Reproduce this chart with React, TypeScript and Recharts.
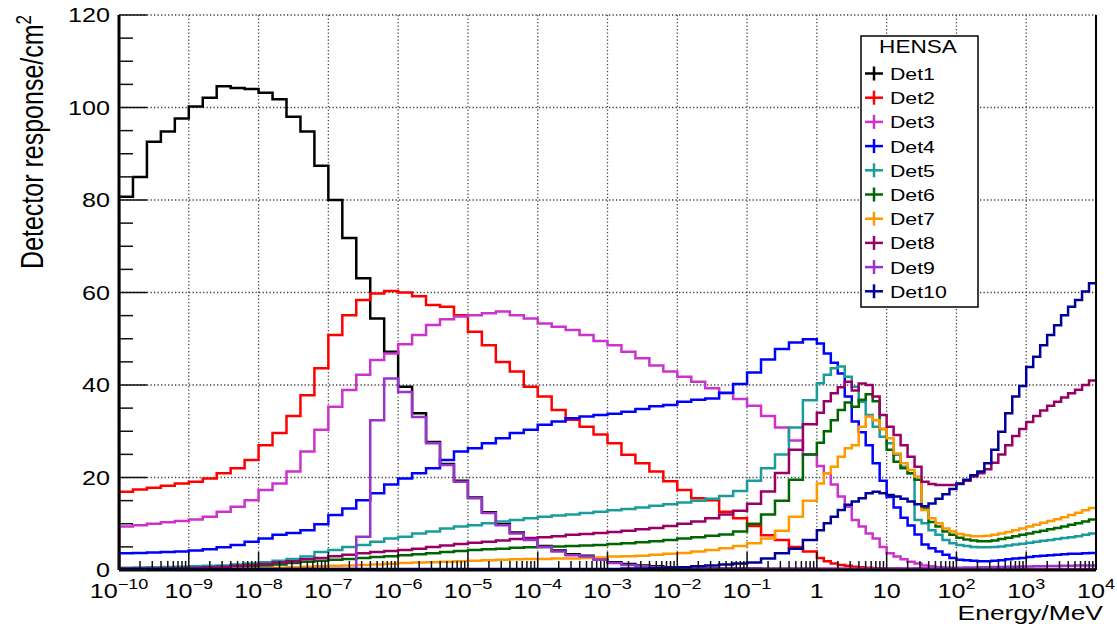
import { LineChart, Line, XAxis, YAxis, CartesianGrid } from "recharts"

const W = 1117
const H = 632
const FONT = "'Liberation Sans', Arial, Helvetica, sans-serif"
// the source picture is stretched horizontally, so text is widened a bit
const STRETCH = 1.29
// plot frame in pixels
const PLOT = { left: 119, right: 1096, top: 15, bottom: 570 }

const NAMES = ["Det1", "Det2", "Det3", "Det4", "Det5", "Det6", "Det7", "Det8", "Det9", "Det10"]
const COLORS = ["#000000", "#ff0000", "#cc33cc", "#0000ff", "#1a9c9c", "#006600", "#ff9900", "#990066", "#9933cc", "#000099"]

// axis ticks
const DECADES = [-10, -9, -8, -7, -6, -5, -4, -3, -2, -1, 0, 1, 2, 3, 4]
const MINOR = [2, 3, 4, 5, 6, 7, 8, 9]
const Y_MAJOR = [0, 20, 40, 60, 80, 100, 120]
const Y_TICKS = [0, 5, 10, 15, 20, 25, 30, 35, 40, 45, 50, 55, 60, 65, 70, 75, 80, 85, 90, 95, 100, 105, 110, 115, 120]

// binning: 5 bins per decade from 1e-10 to 1 MeV, 10 bins per decade from 1 to 1e4 MeV
const LOW_BINS = 50
const HIGH_BINS = 40

// detector responses per bin (50 low bins, then 40 high bins)
const DET1 = [
  80.7, 85.0, 92.6, 94.8, 97.6, 100.2, 102.1, 104.6, 104.2, 104.0,
  103.2, 101.8, 98.0, 94.8, 87.4, 80.0, 71.8, 63.1, 54.4, 47.2,
  39.6, 33.9, 27.7, 22.9, 19.3, 15.7, 12.5, 9.9, 8.1, 6.7,
  5.2, 4.2, 3.4, 3.1, 2.4, 1.7, 1.3, 1.0, 0.8, 0.6,
  0.5, 0.4, 0.4, 0.3, 0.3, 0.3, 0.2, 0.2, 0.2, 0.2,
  0.1, 0.1, 0.1, 0.1, 0.1, 0.1, 0.1, 0.1, 0.1, 0.1,
  0.1, 0.1, 0.1, 0.1, 0.1, 0.1, 0.1, 0.1, 0.1, 0.1,
  0.1, 0.1, 0.1, 0.1, 0.1, 0.1, 0.1, 0.1, 0.1, 0.1,
  0.1, 0.1, 0.1, 0.1, 0.1, 0.1, 0.1, 0.1, 0.1, 0.1,
]
const DET2 = [
  16.9, 17.4, 17.8, 18.2, 18.7, 19.1, 19.8, 20.9, 22.0, 23.8,
  27.0, 29.6, 33.3, 37.8, 43.6, 50.8, 55.1, 58.4, 59.8, 60.3,
  60.0, 59.2, 57.3, 56.9, 55.1, 51.5, 48.6, 45.0, 42.9, 39.6,
  37.5, 34.6, 32.5, 31.0, 29.3, 27.4, 24.9, 23.1, 21.3, 19.2,
  17.3, 15.5, 15.1, 12.6, 11.2, 9.5, 7.5, 6.5, 5.0, 4.0,
  2.6, 1.9, 1.4, 1.1, 0.9, 0.7, 0.6, 0.5, 0.4, 0.35,
  0.3, 0.3, 0.25, 0.2, 0.2, 0.2, 0.15, 0.15, 0.1, 0.1,
  0.1, 0.1, 0.1, 0.1, 0.1, 0.1, 0.1, 0.1, 0.1, 0.1,
  0.1, 0.1, 0.1, 0.1, 0.1, 0.1, 0.1, 0.1, 0.1, 0.1,
]
const DET3 = [
  9.4, 9.7, 10.0, 10.3, 10.6, 10.9, 11.5, 12.6, 13.7, 15.1,
  17.3, 18.7, 21.3, 25.6, 30.3, 35.3, 38.9, 42.2, 45.4, 46.8,
  48.8, 50.8, 53.0, 54.2, 54.8, 55.1, 55.5, 55.9, 55.1, 54.4,
  53.3, 52.6, 51.9, 50.8, 49.5, 48.6, 47.2, 45.8, 44.2, 42.9,
  41.8, 40.7, 39.3, 38.2, 37.0, 35.5, 33.3, 30.8, 28.0, 25.0,
  22.5, 20.9, 18.5, 15.9, 13.7, 10.8, 9.4, 7.9, 6.8, 5.0,
  3.6, 2.9, 2.3, 1.8, 1.4, 1.0, 0.8, 0.6, 0.5, 0.4,
  0.3, 0.3, 0.3, 0.25, 0.25, 0.2, 0.2, 0.2, 0.2, 0.2,
  0.2, 0.2, 0.2, 0.2, 0.2, 0.2, 0.2, 0.2, 0.2, 0.2,
]
const DET4 = [
  3.6, 3.7, 3.8, 3.9, 4.0, 4.2, 4.5, 4.9, 5.4, 6.1,
  6.8, 7.6, 8.0, 8.6, 9.9, 11.9, 13.3, 15.1, 16.6, 18.5,
  19.8, 20.9, 22.0, 23.8, 25.6, 26.3, 27.4, 28.5, 29.6, 30.3,
  31.4, 32.1, 32.8, 33.2, 33.5, 33.8, 34.2, 34.8, 35.4, 35.7,
  36.4, 36.8, 37.1, 38.3, 40.2, 42.7, 45.5, 47.8, 49.2, 49.9,
  49.0, 46.8, 44.8, 42.5, 37.5, 32.1, 29.8, 27.0, 23.1, 19.3,
  15.8, 13.5, 11.3, 9.6, 7.7, 5.5, 4.7, 4.0, 3.3, 2.6,
  2.2, 2.1, 2.0, 1.9, 1.9, 2.0, 2.1, 2.3, 2.5, 2.6,
  2.8, 3.0, 3.1, 3.2, 3.3, 3.4, 3.5, 3.5, 3.6, 3.7,
]
const DET5 = [
  0.5, 0.55, 0.6, 0.65, 0.7, 0.8, 0.9, 1.0, 1.2, 1.4,
  1.7, 2.0, 2.4, 2.9, 3.9, 4.3, 5.0, 5.4, 6.1, 6.8,
  7.2, 7.9, 8.3, 9.0, 9.4, 9.7, 10.1, 10.5, 10.8, 11.2,
  11.5, 11.8, 12.0, 12.3, 12.6, 12.9, 13.2, 13.5, 13.9, 14.2,
  14.6, 15.0, 15.4, 16.0, 17.1, 19.3, 22.0, 25.0, 30.8, 36.7,
  40.4, 42.2, 43.6, 44.0, 41.8, 39.6, 36.4, 33.5, 31.0, 28.8,
  27.4, 24.9, 22.3, 20.9, 10.8, 10.1, 8.6, 7.6, 6.5, 5.8,
  5.4, 5.2, 5.0, 4.9, 4.9, 5.0, 5.1, 5.3, 5.5, 5.7,
  5.9, 6.1, 6.3, 6.5, 6.7, 6.9, 7.1, 7.3, 7.6, 7.9,
]
const DET6 = [
  0.2, 0.2, 0.25, 0.3, 0.35, 0.4, 0.5, 0.6, 0.7, 0.8,
  1.0, 1.2, 1.5, 1.8, 2.0, 2.2, 2.4, 2.6, 2.8, 3.0,
  3.2, 3.4, 3.6, 3.9, 4.1, 4.3, 4.5, 4.6, 4.8, 4.9,
  5.0, 5.1, 5.2, 5.3, 5.4, 5.6, 5.8, 6.0, 6.2, 6.5,
  6.8, 7.1, 7.4, 7.7, 8.3, 10.0, 12.0, 15.0, 19.5, 25.0,
  27.5, 30.0, 32.4, 34.6, 36.2, 35.3, 36.8, 38.0, 36.5, 30.5,
  26.0, 23.4, 22.0, 20.9, 19.5, 13.3, 10.4, 9.4, 8.3, 7.6,
  7.0, 6.6, 6.4, 6.2, 6.2, 6.4, 6.7, 7.0, 7.3, 7.6,
  7.9, 8.2, 8.5, 8.8, 9.1, 9.4, 9.8, 10.1, 10.5, 10.9,
]
const DET7 = [
  0.1, 0.1, 0.1, 0.1, 0.15, 0.2, 0.2, 0.25, 0.3, 0.35,
  0.4, 0.5, 0.6, 0.7, 0.8, 0.9, 1.0, 1.1, 1.2, 1.35,
  1.5, 1.6, 1.7, 1.8, 1.9, 2.0, 2.1, 2.2, 2.3, 2.4,
  2.4, 2.5, 2.5, 2.6, 2.7, 2.9, 3.0, 3.1, 3.3, 3.5,
  3.7, 4.0, 4.3, 4.7, 5.2, 5.8, 6.8, 8.5, 11.5, 15.0,
  18.7, 20.9, 22.3, 24.5, 26.3, 27.0, 31.0, 33.2, 32.4, 30.5,
  28.5, 25.2, 23.1, 21.6, 20.2, 13.0, 11.2, 10.1, 9.0, 8.3,
  7.8, 7.5, 7.3, 7.3, 7.4, 7.6, 7.9, 8.2, 8.6, 9.0,
  9.4, 9.8, 10.2, 10.6, 11.0, 11.4, 11.9, 12.4, 12.9, 13.4,
]
const DET8 = [
  0.3, 0.3, 0.35, 0.4, 0.45, 0.5, 0.6, 0.7, 0.9, 1.1,
  1.3, 1.6, 1.9, 2.3, 2.6, 3.0, 3.3, 3.6, 3.9, 4.1,
  4.3, 4.6, 5.0, 5.3, 5.6, 5.9, 6.1, 6.4, 6.7, 6.9,
  7.1, 7.3, 7.6, 7.8, 8.0, 8.2, 8.5, 8.8, 9.1, 9.5,
  10.0, 10.5, 11.2, 12.0, 12.8, 14.3, 17.0, 21.0, 26.0, 31.5,
  34.0, 36.5, 38.2, 39.5, 40.7, 38.8, 40.3, 40.0, 37.5, 33.5,
  31.0, 29.2, 27.0, 24.5, 22.3, 19.1, 18.6, 18.4, 18.4, 18.4,
  18.6, 19.3, 20.2, 20.9, 21.8, 23.2, 25.0, 27.0, 29.0, 30.5,
  32.0, 33.3, 34.5, 35.5, 36.4, 37.3, 38.2, 39.0, 40.0, 41.0,
]
const DET9 = [
  0.2, 0.2, 0.2, 0.2, 0.2, 0.2, 0.2, 0.2, 0.2, 0.2,
  0.2, 0.2, 0.2, 0.2, 0.2, 0.2, 0.2, 7.2, 32.4, 41.4,
  38.5, 33.1, 27.4, 22.7, 19.1, 15.5, 12.3, 9.7, 7.9, 6.5,
  5.0, 4.0, 3.2, 2.9, 2.2, 1.5, 1.1, 0.8, 0.6, 0.5,
  0.4, 0.4, 0.3, 0.3, 0.3, 0.3, 0.3, 0.3, 0.3, 0.3,
  0.3, 0.3, 0.3, 0.3, 0.3, 0.3, 0.3, 0.3, 0.3, 0.3,
  0.3, 0.3, 0.35, 0.35, 0.4, 0.4, 0.4, 0.45, 0.45, 0.5,
  0.5, 0.55, 0.55, 0.6, 0.6, 0.65, 0.65, 0.7, 0.7, 0.75,
  0.75, 0.8, 0.8, 0.85, 0.85, 0.9, 0.9, 0.95, 1.0, 1.0,
]
const DET10 = [
  0.2, 0.2, 0.2, 0.2, 0.2, 0.2, 0.2, 0.2, 0.2, 0.2,
  0.2, 0.2, 0.2, 0.2, 0.2, 0.2, 0.2, 0.2, 0.2, 0.2,
  0.2, 0.2, 0.2, 0.2, 0.2, 0.2, 0.2, 0.2, 0.2, 0.2,
  0.2, 0.2, 0.2, 0.2, 0.2, 0.2, 0.3, 0.3, 0.4, 0.5,
  0.6, 0.8, 1.0, 1.2, 1.4, 1.6, 2.5, 3.6, 4.6, 6.5,
  8.6, 10.1, 11.5, 13.0, 14.1, 14.8, 15.5, 16.6, 16.9, 16.6,
  16.2, 15.9, 15.4, 14.8, 14.2, 13.8, 14.4, 15.4, 16.4, 17.5,
  18.7, 19.5, 20.5, 21.3, 23.1, 26.0, 29.9, 33.9, 37.5, 39.8,
  43.9, 46.1, 48.6, 50.8, 52.9, 55.1, 56.9, 58.4, 60.2, 62.0,
]

const SERIES = [DET1, DET2, DET3, DET4, DET5, DET6, DET7, DET8, DET9, DET10]

// bin edges in MeV
const EDGES: number[] = []
for (let i = 0; i <= LOW_BINS; i++) EDGES.push(Math.pow(10, -10 + i / 5))
for (let j = 1; j <= HIGH_BINS; j++) EDGES.push(Math.pow(10, j / 10))

// histogram rows for stepAfter lines: start from 0 at the left edge, close at the right edge
const rows: Record<string, number>[] = []
const first: Record<string, number> = { x: EDGES[0] }
NAMES.forEach((n) => (first[n] = 0))
rows.push(first)
for (let i = 0; i < LOW_BINS + HIGH_BINS; i++) {
  const r: Record<string, number> = { x: EDGES[i] }
  NAMES.forEach((n, k) => (r[n] = SERIES[k][i]))
  rows.push(r)
}
const last: Record<string, number> = { x: EDGES[LOW_BINS + HIGH_BINS] }
NAMES.forEach((n, k) => (last[n] = SERIES[k][LOW_BINS + HIGH_BINS - 1]))
rows.push(last)

const X_TICKS = DECADES.flatMap((e) =>
  e === 4 ? [Math.pow(10, e)] : [Math.pow(10, e), ...MINOR.map((m) => m * Math.pow(10, e))]
)

// dotted grid at the major ticks (pixel positions of the frame)
const GRID_X = DECADES.map((e) => PLOT.left + ((e - DECADES[0]) / (DECADES.length - 1)) * (PLOT.right - PLOT.left))
const GRID_Y = Y_MAJOR.map((v) => PLOT.bottom - (v / 120) * (PLOT.bottom - PLOT.top))

function XTick(props: any) {
  const { x, y, payload } = props
  const v = payload.value
  const e = Math.round(Math.log10(v))
  const major = Math.abs(v / Math.pow(10, e) - 1) < 1e-6
  let label: any = null
  if (major) {
    if (e === 0) label = "1"
    else if (e === 1) label = "10"
    else
      label = (
        <>
          10
          <tspan dy={-9} fontSize={14}>
            {e < 0 ? `\u2212${-e}` : `${e}`}
          </tspan>
        </>
      )
  }
  return (
    <g>
      <line x1={x} x2={x} y1={y} y2={y - (major ? 18 : 9)} stroke="#111" strokeWidth={1.5} />
      {major && (
        <text
          transform={`translate(${x},${y + 28}) scale(${STRETCH},1)`}
          textAnchor="middle"
          fontSize={19.5}
          fontFamily={FONT}
          fill="#000"
        >
          {label}
        </text>
      )}
    </g>
  )
}

function YTick(props: any) {
  const { x, y, payload } = props
  const v = payload.value
  const major = v % 20 === 0
  return (
    <g>
      <line x1={x} x2={x + (major ? 28 : 14)} y1={y} y2={y} stroke="#111" strokeWidth={1.5} />
      {major && (
        <text
          transform={`translate(${x - 9},${y + 7}) scale(${STRETCH},1)`}
          textAnchor="end"
          fontSize={19.5}
          fontFamily={FONT}
          fill="#000"
        >
          {v}
        </text>
      )}
    </g>
  )
}

function Overlay() {
  return (
    <svg
      width={W}
      height={H}
      style={{ position: "absolute", left: 0, top: 0, pointerEvents: "none" }}
    >
      {/* right side of the frame */}
      <line x1={PLOT.right} x2={PLOT.right} y1={PLOT.top} y2={PLOT.bottom} stroke="#000" strokeWidth={2} />

      {/* axis titles */}
      <text
        transform={`translate(43,15) scale(1.28,1) rotate(-90)`}
        textAnchor="end"
        fontSize={25}
        fontFamily={FONT}
        fill="#000"
      >
        Detector response/cm
        <tspan dy={-9} fontSize={17}>
          2
        </tspan>
      </text>
      <text
        transform={`translate(1103,620) scale(${STRETCH},1)`}
        textAnchor="end"
        fontSize={20.5}
        fontFamily={FONT}
        fill="#000"
      >
        Energy/MeV
      </text>

      {/* legend box */}
      <rect x={861} y={36} width={117} height={271} fill="#fff" stroke="#000" strokeWidth={1.5} />
      <text
        transform={`translate(918,53) scale(${STRETCH},1)`}
        textAnchor="middle"
        fontSize={17.5}
        fontFamily={FONT}
        fill="#000"
      >
        HENSA
      </text>
      {NAMES.map((n, i) => {
        const base = 80 + 24.2 * i
        const cy = base - 6.5
        return (
          <g key={n}>
            <line x1={865} x2={883} y1={cy} y2={cy} stroke={COLORS[i]} strokeWidth={2.5} />
            <line x1={874} x2={874} y1={cy - 7} y2={cy + 7} stroke={COLORS[i]} strokeWidth={2.5} />
            <text
              transform={`translate(890,${base}) scale(${STRETCH},1)`}
              fontSize={16.5}
              fontFamily={FONT}
              fill="#000"
            >
              {n}
            </text>
          </g>
        )
      })}
    </svg>
  )
}

export default function App() {
  return (
    <div style={{ position: "absolute", left: 0, top: 0, width: W, height: H, background: "#fff" }}>
      <LineChart width={W} height={H} data={rows} margin={{ top: 15, right: 21, bottom: 0, left: 0 }}>
        <CartesianGrid
          horizontalPoints={GRID_Y}
          verticalPoints={GRID_X}
          stroke="#444"
          strokeWidth={1.3}
          strokeDasharray="1.3 2.2"
        />
        <XAxis
          dataKey="x"
          type="number"
          scale="log"
          domain={[1e-10, 1e4]}
          allowDataOverflow
          ticks={X_TICKS}
          interval={0}
          height={62}
          tickSize={0}
          tickMargin={0}
          tickLine={false}
          axisLine={{ stroke: "#000", strokeWidth: 3 }}
          tick={XTick}
        />
        <YAxis
          type="number"
          domain={[0, 120]}
          ticks={Y_TICKS}
          interval={0}
          width={119}
          tickSize={0}
          tickMargin={0}
          tickLine={false}
          axisLine={{ stroke: "#000", strokeWidth: 3 }}
          tick={YTick}
        />
        {NAMES.map((n, i) => (
          <Line
            key={n}
            dataKey={n}
            type="stepAfter"
            stroke={COLORS[i]}
            strokeWidth={2.5}
            dot={false}
            activeDot={false}
            isAnimationActive={false}
          />
        ))}
      </LineChart>
      <Overlay />
    </div>
  )
}
